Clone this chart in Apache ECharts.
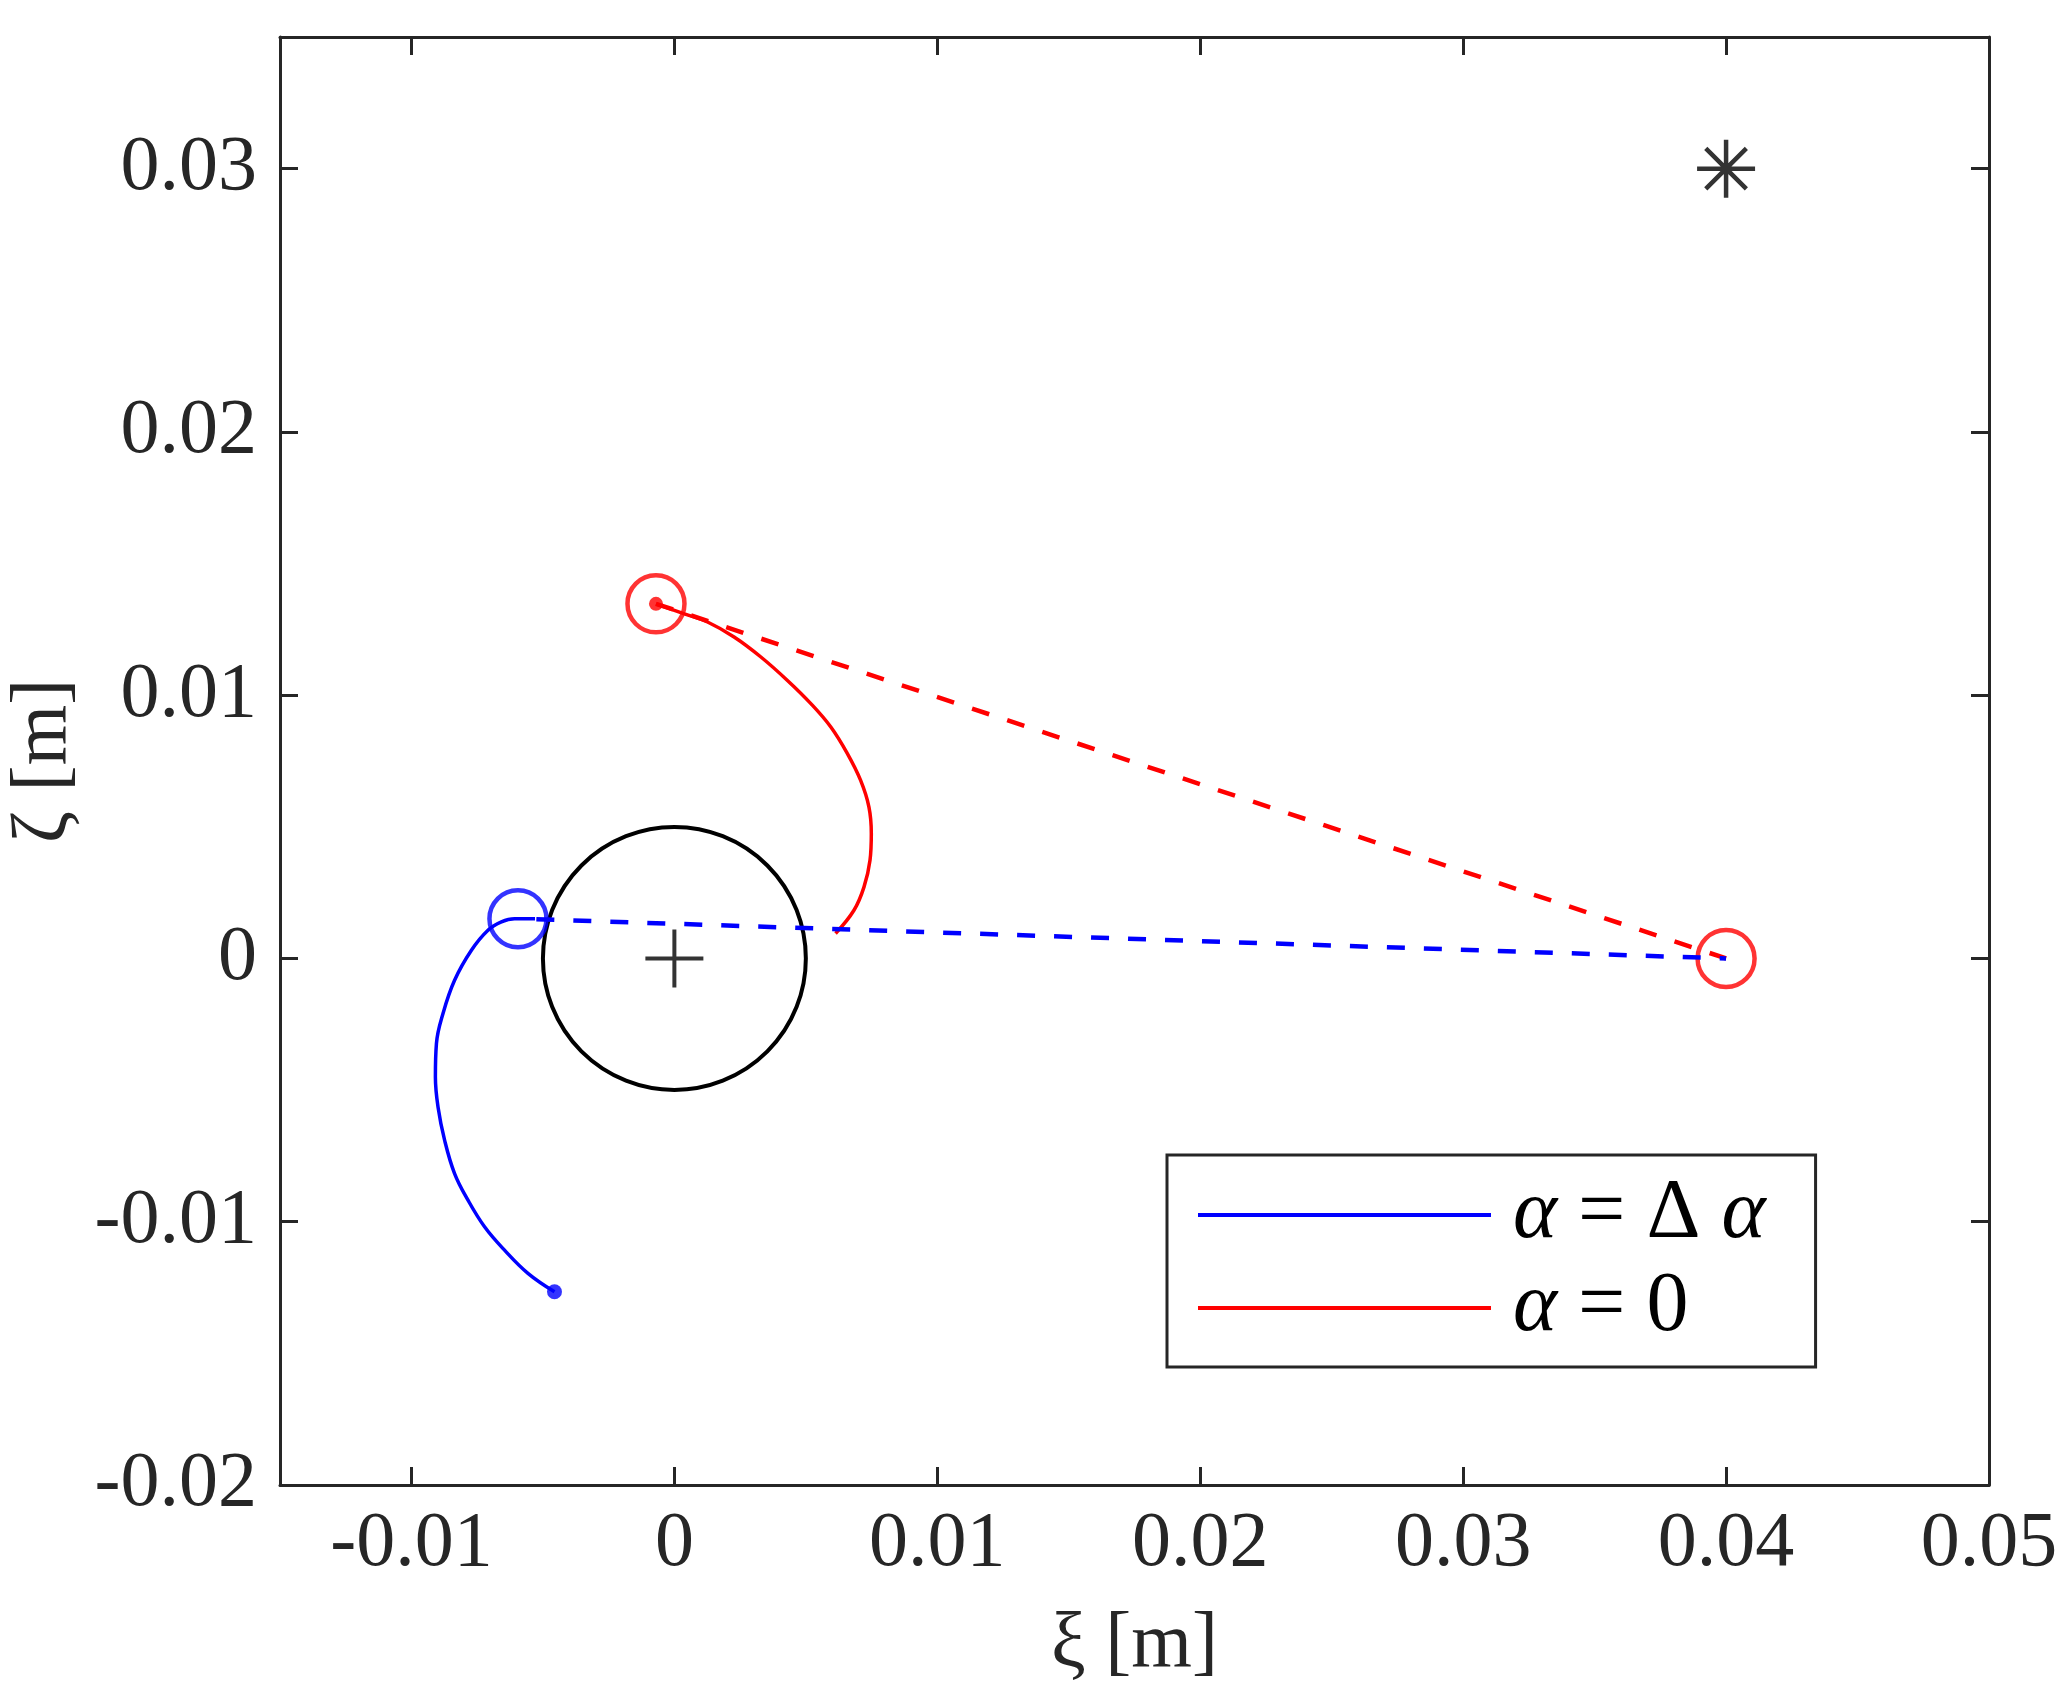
<!DOCTYPE html>
<html lang="en">
<head>
    <meta charset="UTF-8">
    <title>Trajectories</title>
    <script src="https://cdn.jsdelivr.net/npm/echarts@6/dist/echarts.min.js"></script>
    <style type="text/css">
        html, body {
            margin: 0;
            padding: 0;
            background: #fff;
        }
    </style>
</head>
<body>

<div id="main" style="width: 2065px;height:1705px;"></div>

<script>
    // tick positions
    const xTicks = [-0.01, 0, 0.01, 0.02, 0.03, 0.04, 0.05];
    const yTicks = [-0.02, -0.01, 0, 0.01, 0.02, 0.03];

    // trajectories
    const redPath = [
        [-0.0007, 0.01347], [0.00038, 0.01309], [0.00126, 0.01278], [0.00227, 0.01221],
        [0.00329, 0.01145], [0.0043, 0.01056], [0.00519, 0.00968], [0.00595, 0.00879],
        [0.00658, 0.00778], [0.00708, 0.00677], [0.0074, 0.00575], [0.00749, 0.00474],
        [0.00744, 0.00373], [0.00721, 0.00271], [0.00683, 0.00183], [0.00613, 0.00095]
    ];
    const bluePath = [
        [-0.00456, -0.01266], [-0.00557, -0.01196], [-0.00646, -0.01108], [-0.00722, -0.01019],
        [-0.00785, -0.00918], [-0.00836, -0.00817], [-0.00874, -0.0069], [-0.00899, -0.00564],
        [-0.00909, -0.0045], [-0.00905, -0.00323], [-0.0088, -0.00209], [-0.00836, -0.00083],
        [-0.00772, 0.00031], [-0.00709, 0.00107], [-0.00658, 0.00139], [-0.00608, 0.00151],
        [-0.00530, 0.00151]
    ];
    const redDashed = [[-0.0007, 0.01347], [0.04, 0]];
    const blueDashed = [[-0.00525, 0.00149], [0.04, 0]];
    const redRings = [[-0.0007, 0.01347], [0.04, 0]];
    const blueRings = [[-0.00595, 0.00151]];
    const redDots = [[-0.0007, 0.01347]];
    const blueDots = [[-0.00456, -0.01266]];
    const starPoint = [[0.04, 0.03]];
    const plusPoint = [[0, 0]];
    const obstacle = [[0, 0, 0.005]];   // centre x, centre y, radius

    const legendNames = ['α = Δ α', 'α = 0'];

    const FONT = "'Liberation Serif', 'Times New Roman', serif";
    const AXIS_COLOR = '#262626';

    function fmt(v) {
        return String(parseFloat(v.toFixed(4)));
    }

    function makeAxis(pos, isX, showLabels) {
        return {
            type: 'value',
            position: pos,
            min: isX ? -0.015 : -0.02,
            max: isX ? 0.05 : 0.035,
            splitLine: {show: false},
            axisLine: {show: true, onZero: false, lineStyle: {color: AXIS_COLOR, width: 3}},
            axisTick: {
                show: true,
                inside: true,
                length: 18,
                lineStyle: {color: AXIS_COLOR, width: 3},
                customValues: isX ? xTicks : yTicks
            },
            axisLabel: {
                show: showLabels,
                customValues: isX ? xTicks : yTicks,
                formatter: fmt,
                fontFamily: FONT,
                fontSize: 78,
                color: AXIS_COLOR,
                margin: isX ? 21 : 23
            }
        };
    }

    const myChart = echarts.init(document.getElementById('main'), null, {renderer: 'canvas'});

    const xBottom = makeAxis('bottom', true, true);
    xBottom.name = 'ξ [m]';
    xBottom.nameLocation = 'middle';
    xBottom.nameGap = 122;
    xBottom.nameTextStyle = {fontFamily: FONT, fontSize: 78, color: AXIS_COLOR};

    const yLeft = makeAxis('left', false, true);
    yLeft.name = 'ζ [m]';
    yLeft.nameLocation = 'middle';
    yLeft.nameGap = 162;
    yLeft.nameTextStyle = {fontFamily: FONT, fontSize: 78, color: AXIS_COLOR};

    const option = {
        animation: false,
        backgroundColor: '#fff',
        grid: {left: 280, top: 37, width: 1709, height: 1448, outerBoundsMode: 'none', containLabel: false},
        xAxis: [xBottom, makeAxis('top', true, false)],
        yAxis: [yLeft, makeAxis('right', false, false)],
        legend: {
            left: 1167,
            top: 1155,
            orient: 'vertical',
            data: legendNames,
            icon: 'rect',
            itemWidth: 293,
            itemHeight: 4,
            itemGap: 9,
            padding: [18, 50, 17, 31],
            borderColor: AXIS_COLOR,
            borderWidth: 3,
            backgroundColor: '#fff',
            formatter: function (name) {
                return name.replace(/α/g, '{i|α}');
            },
            textStyle: {
                fontFamily: FONT,
                fontSize: 84,
                lineHeight: 80,
                color: '#000',
                padding: [0, 0, 0, 17],
                rich: {
                    i: {fontFamily: FONT, fontStyle: 'italic', fontSize: 84, lineHeight: 80, color: '#000'}
                }
            }
        },
        series: [
            {
                type: 'custom',
                silent: true,
                renderItem: function (params, api) {
                    const c = api.coord([api.value(0), api.value(1)]);
                    const r = api.size([api.value(2), api.value(2)]);
                    return {
                        type: 'circle',
                        shape: {cx: c[0], cy: c[1], r: r[0]},
                        style: {fill: 'none', stroke: '#000', lineWidth: 4}
                    };
                },
                data: obstacle
            },
            {
                name: legendNames[1],
                type: 'line',
                smooth: 0.4,
                showSymbol: false,
                lineStyle: {color: '#ff0000', width: 3.5},
                itemStyle: {color: '#ff0000'},
                data: redPath
            },
            {
                name: legendNames[0],
                type: 'line',
                smooth: 0.4,
                showSymbol: false,
                lineStyle: {color: '#0000ff', width: 3.5},
                itemStyle: {color: '#0000ff'},
                data: bluePath
            },
            {
                type: 'line',
                showSymbol: false,
                lineStyle: {color: '#ff0000', width: 4.5, type: [18, 19]},
                data: redDashed
            },
            {
                type: 'line',
                showSymbol: false,
                lineStyle: {color: '#0000ff', width: 4.5, type: [18, 19]},
                data: blueDashed
            },
            {
                type: 'scatter',
                symbol: 'circle',
                symbolSize: 57,
                itemStyle: {color: 'rgba(0,0,0,0)', borderColor: '#ff0000', borderWidth: 4.5},
                data: redRings
            },
            {
                type: 'scatter',
                symbol: 'circle',
                symbolSize: 57,
                itemStyle: {color: 'rgba(0,0,0,0)', borderColor: '#0000ff', borderWidth: 4.5},
                data: blueRings
            },
            {
                type: 'scatter',
                symbol: 'circle',
                symbolSize: 14,
                itemStyle: {color: '#ff0000'},
                data: redDots
            },
            {
                type: 'scatter',
                symbol: 'circle',
                symbolSize: 15,
                itemStyle: {color: '#0000ff'},
                data: blueDots
            },
            {
                type: 'scatter',
                symbol: 'path://M50,0L50,100M0,50L100,50M15,15L85,85M85,15L15,85',
                symbolSize: 58,
                itemStyle: {color: 'rgba(0,0,0,0)', borderColor: '#000', borderWidth: 4.5},
                data: starPoint
            },
            {
                type: 'scatter',
                symbol: 'path://M50,0L50,100M0,50L100,50',
                symbolSize: 58,
                itemStyle: {color: 'rgba(0,0,0,0)', borderColor: '#000', borderWidth: 4},
                data: plusPoint
            }
        ]
    };

    myChart.setOption(option);

    window.addEventListener("resize", function () {
        myChart.resize();
    });
</script>
</body>
</html>
